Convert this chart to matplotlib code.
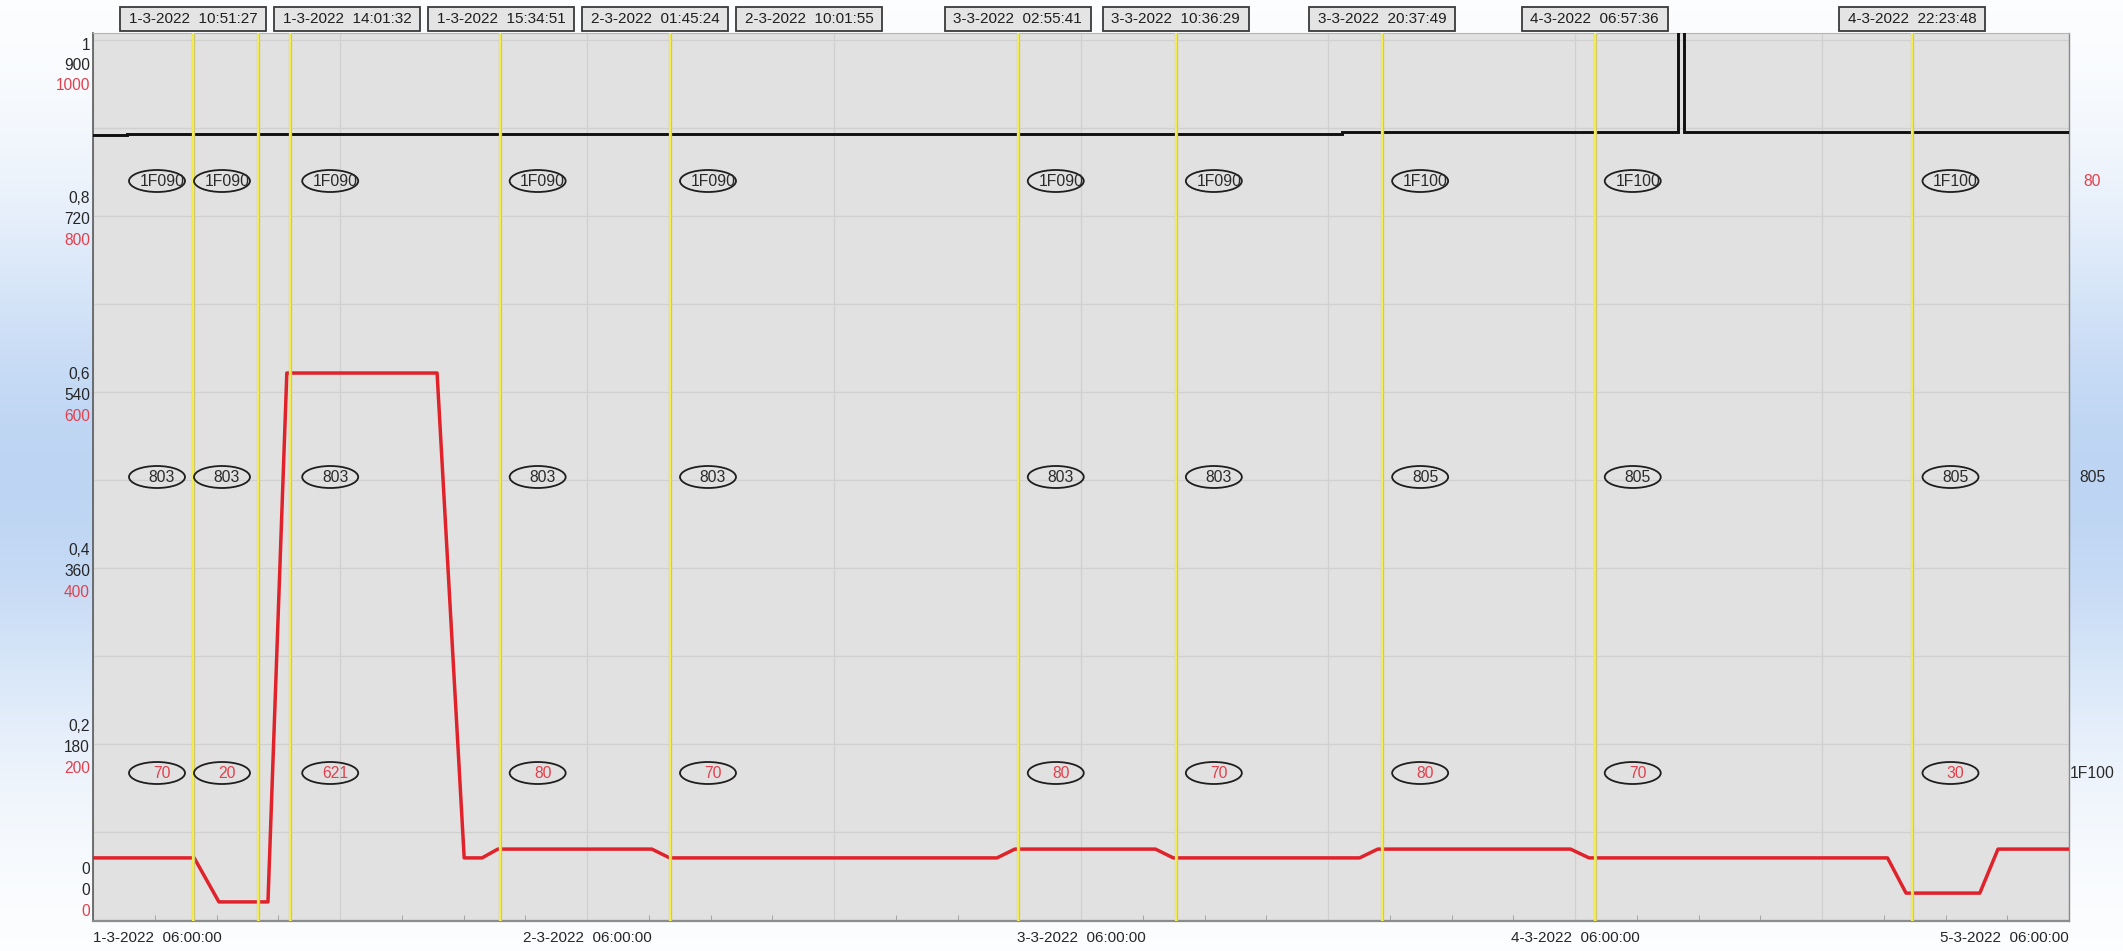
import matplotlib
matplotlib.use("Agg")
import numpy as np
import pandas as pd
import matplotlib.pyplot as plt
import matplotlib.dates as mdates
from matplotlib.patches import Ellipse, Rectangle
from matplotlib.transforms import blended_transform_factory
from matplotlib import font_manager

# ---------------- data ----------------
x_start = "2022-03-01 06:00:00"
x_end = "2022-03-05 06:00:00"

red_times = ["2022-03-01 06:00", "2022-03-01 10:55", "2022-03-01 12:07", "2022-03-01 14:30",
             "2022-03-01 15:25", "2022-03-01 22:43", "2022-03-02 00:02", "2022-03-02 00:54",
             "2022-03-02 01:40", "2022-03-02 09:09", "2022-03-02 10:01", "2022-03-03 01:55",
             "2022-03-03 02:47", "2022-03-03 09:37", "2022-03-03 10:29", "2022-03-03 19:32",
             "2022-03-03 20:25", "2022-03-04 05:47", "2022-03-04 06:41", "2022-03-04 21:11",
             "2022-03-04 22:05", "2022-03-05 01:40", "2022-03-05 02:33", "2022-03-05 06:00"]
red_values = [70, 70, 20, 20, 621, 621, 70, 70, 80, 80, 70, 70,
              80, 80, 70, 70, 80, 80, 70, 70, 30, 30, 80, 80]

black_times = ["2022-03-01 06:00", "2022-03-01 07:39", "2022-03-01 07:39", "2022-03-03 18:40",
               "2022-03-03 18:40", "2022-03-04 10:59", "2022-03-04 10:59", "2022-03-04 11:18",
               "2022-03-04 11:18", "2022-03-05 06:00"]
black_values = [802, 802, 803, 803, 805, 805, 1000, 1000, 805, 805]

marker_times = ["2022-03-01 10:51:27", "2022-03-01 14:01:32", "2022-03-01 15:34:51",
                "2022-03-02 01:45:24", "2022-03-02 10:01:55", "2022-03-03 02:55:41",
                "2022-03-03 10:36:29", "2022-03-03 20:37:49", "2022-03-04 06:57:36",
                "2022-03-04 22:23:48"]

group_times = [x_start, "2022-03-01 10:51:27", "2022-03-01 15:34:51", "2022-03-02 01:45:24",
               "2022-03-02 10:01:55", "2022-03-03 02:55:41", "2022-03-03 10:36:29",
               "2022-03-03 20:37:49", "2022-03-04 06:57:36", "2022-03-04 22:23:48"]
group_codes = ["1F090", "1F090", "1F090", "1F090", "1F090", "1F090", "1F090",
               "1F100", "1F100", "1F100"]
group_levels = ["803", "803", "803", "803", "803", "803", "803", "805", "805", "805"]
group_speeds = ["70", "20", "621", "80", "70", "80", "70", "80", "70", "30"]

frac_ticks = [0, 0.2, 0.4, 0.6, 0.8, 1.0]
frac_labels = ["0", "0,2", "0,4", "0,6", "0,8", "1"]
black_scale_labels = ["0", "180", "360", "540", "720", "900"]
red_scale_labels = ["0", "200", "400", "600", "800", "1000"]
black_scale_max = 900
red_scale_max = 1000

right_labels = ["80", "805", "1F100"]

# ---------------- fonts ----------------
names = {f.name for f in font_manager.fontManager.ttflist}
if "Liberation Sans Narrow" in names:
    NARROW = ["Liberation Sans Narrow", "DejaVu Sans"]
    nsz = 12.5
else:
    NARROW = ["Liberation Sans", "DejaVu Sans"]
    nsz = 11.0
REG = ["Liberation Sans", "DejaVu Sans"]

# ---------------- layout ----------------
W, H = 2123, 951
L, R, T, B = 93, 2069, 33, 921
fig = plt.figure(figsize=(W / 100, H / 100), dpi=100)

# background gradient
bg = fig.add_axes([0, 0, 1, 1], zorder=-10)
bg.set_axis_off()
yy, xx = np.mgrid[0:1:300j, 0:1:600j]
wgt = 0.95 * np.exp(-((yy - 0.5) / 0.28) ** 2)
blue = np.array([186, 211, 243]) / 255.0
img = (1 - wgt[..., None]) * np.ones(3) + wgt[..., None] * blue
bg.imshow(img, extent=[0, 1, 0, 1], aspect="auto", interpolation="bilinear")
bg.set_xlim(0, 1)
bg.set_ylim(0, 1)

ax = fig.add_axes([L / W, 1 - B / H, (R - L) / W, (B - T) / H])
ax.set_facecolor("#e1e1e1")
ylo, yhi = -0.0017, 1.0074
ax.set_ylim(ylo, yhi)

def dn(s):
    return mdates.date2num(pd.Timestamp(s).to_pydatetime())

x0, x1 = dn(x_start), dn(x_end)
ax.set_xlim(x0, x1)
px_per_day = (R - L) / (x1 - x0)

# horizontal grid every 0.1
ax.set_yticks(np.arange(0, 1.0001, 0.1))
ax.tick_params(axis="y", length=0, labelleft=False)
ax.grid(True, axis="y", color="#d0d0d0", lw=0.9)

# x ticks: grid every 12 h, labels on 06:00
xt = pd.date_range(x_start, x_end, freq="12h")
xlabels = [f"{t.day}-{t.month}-{t.year}  {t:%H:%M:%S}" if t.hour == 6 else "" for t in xt]
ax.set_xticks([dn(t) for t in xt], xlabels)
ax.grid(True, axis="x", color="#d0d0d0", lw=0.9)
ax.tick_params(axis="x", length=0, pad=7, labelsize=nsz, labelcolor="#262626")
for lab in ax.get_xticklabels():
    lab.set_family(NARROW)
labs = ax.get_xticklabels()
labs[0].set_ha("left")
labs[-1].set_ha("right")
xm = pd.date_range(x_start, x_end, freq="3h")
ax.set_xticks([dn(t) for t in xm], minor=True)
ax.tick_params(axis="x", which="minor", direction="in", length=4, color="#9a9a9a")

for side, col, lw in [("left", "#5a5a5a", 1.2), ("bottom", "#8c8c8c", 1.6),
                      ("top", "#b4b4b4", 0.8), ("right", "#8a8a8a", 1.0)]:
    ax.spines[side].set_color(col)
    ax.spines[side].set_linewidth(lw)

# y labels (three stacked scales)
ty = blended_transform_factory(ax.transAxes, ax.transData)
for f, a, b, c in zip(frac_ticks, frac_labels, black_scale_labels, red_scale_labels):
    if f >= 1:
        offs = [6, 26, 46]
    elif f <= 0:
        offs = [-50, -29, -8]
    else:
        offs = [-17, 4, 25]
    for txt, off, col in zip([a, b, c], offs, ["#262626", "#262626", "#e2404c"]):
        ax.annotate(txt, xy=(0, f), xycoords=ty, xytext=(-3, -off),
                    textcoords="offset pixels", ha="right", va="center",
                    fontsize=11.2, color=col, family=REG)

# data axes
axk = ax.twinx()
axk.set_ylim(ylo * black_scale_max, yhi * black_scale_max)
axk.axis("off")
axr = ax.twinx()
axr.set_ylim(ylo * red_scale_max, yhi * red_scale_max)
axr.axis("off")

axk.plot([dn(t) for t in black_times], black_values, color="#101010", lw=2.1,
         solid_joinstyle="miter")
axr.plot([dn(t) for t in red_times], red_values, color="#e0222a", lw=2.5, zorder=2)

# event markers
for t in marker_times:
    axr.axvline(dn(t), color="#cfc77a", lw=2.4, zorder=3)
    axr.axvline(dn(t), color="#f4ee4c", lw=1.4, zorder=3.1)

# ellipse groups
te = blended_transform_factory(axr.transData, axr.transAxes)
group_dx_px = [64, 29, 40, 38, 38, 38, 38, 38, 38, 38]
ew = 56 / px_per_day
eh = 22 / (B - T)
tx_shift = 5 / px_per_day
rows = [5 / 6, 0.5, 1 / 6]
for t, dx, code, lev, spd in zip(group_times, group_dx_px, group_codes, group_levels, group_speeds):
    xc = dn(t) + dx / px_per_day
    for yr, txt, col in zip(rows, [code, lev, spd], ["#2a2a2a", "#2a2a2a", "#e2404c"]):
        axr.add_patch(Ellipse((xc, yr), ew, eh, transform=te, fill=False,
                              ec="#1e1e1e", lw=1.3, zorder=5))
        axr.text(xc + tx_shift, yr, txt, transform=te, ha="center", va="center",
                 fontsize=nsz + 0.3, color=col, family=NARROW, zorder=6)

# right-side labels
tr = blended_transform_factory(fig.transFigure, ax.transAxes)
for yr, txt, col in zip(rows, right_labels, ["#e2404c", "#2a2a2a", "#2a2a2a"]):
    ax.text(2092 / W, yr, txt, transform=tr, ha="center", va="center",
            fontsize=nsz + 0.3, color=col, family=NARROW)

# timestamp boxes above the plot (greedy placement to avoid overlap)
tb = blended_transform_factory(ax.transData, fig.transFigure)
bw = 146 / px_per_day
pitch = 154 / px_per_day
by0 = 1 - 30.7 / H
bh = 23.4 / H
prev = -1e9
for t in marker_times:
    ts = pd.Timestamp(t)
    c = max(dn(t), prev + pitch)
    prev = c
    ax.add_patch(Rectangle((c - bw / 2, by0), bw, bh, transform=tb, clip_on=False,
                           fc="#e4e4e4", ec="#3a3a3a", lw=1.3, zorder=10))
    ax.text(c, by0 + bh / 2, f"{ts.day}-{ts.month}-{ts.year}  {ts:%H:%M:%S}",
            transform=tb, ha="center", va="center", fontsize=nsz, color="#1e1e1e",
            family=NARROW, clip_on=False, zorder=11)

fig.savefig("out.png", dpi=100)
